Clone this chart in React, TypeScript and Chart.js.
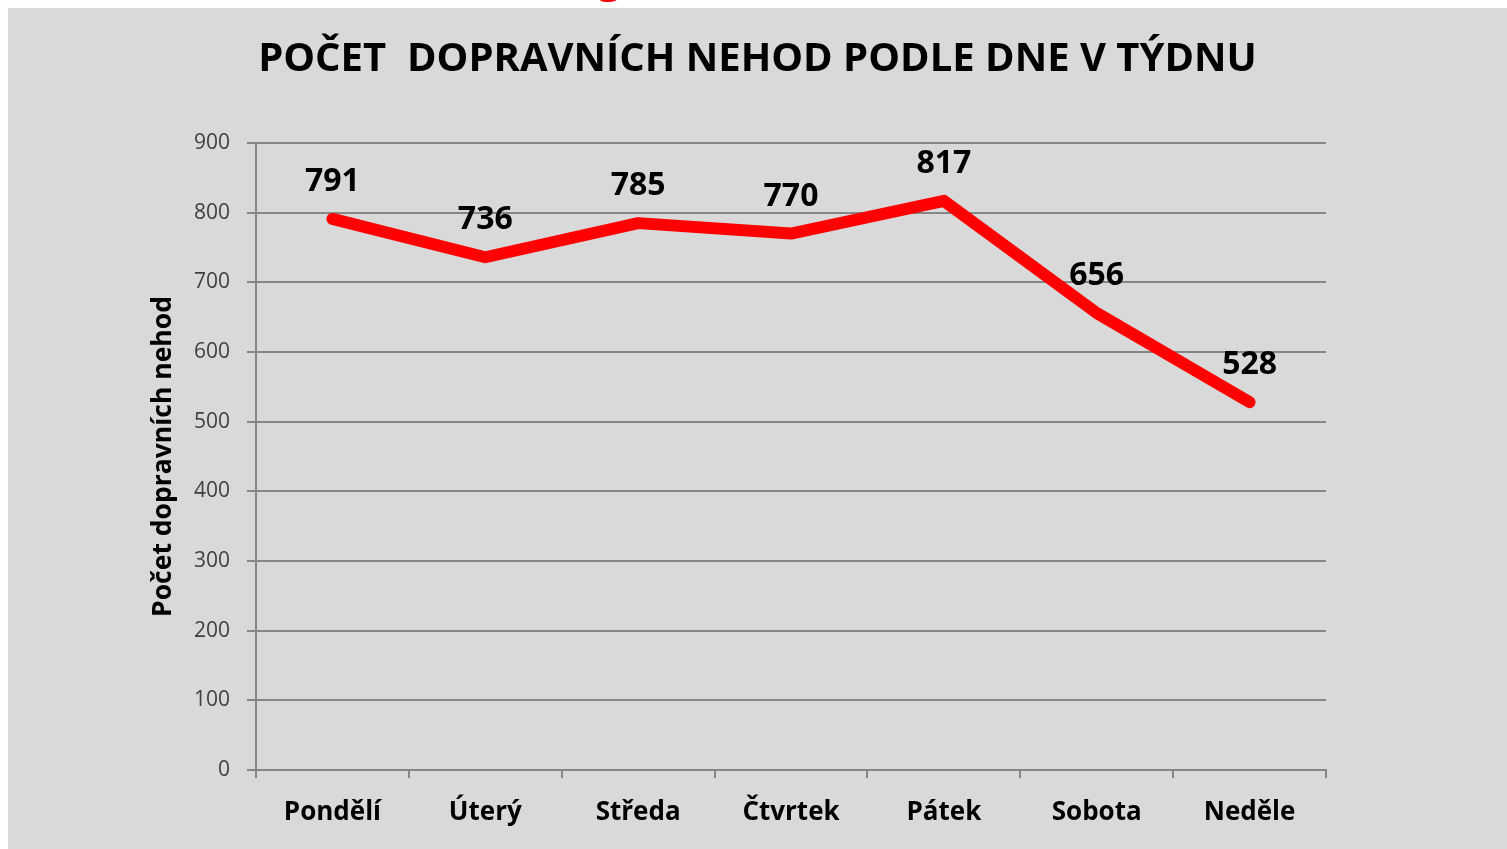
import React, { useEffect, useRef } from "react";
import { Chart, registerables } from "chart.js";

Chart.register(...registerables);

const days = ["Pondělí", "Úterý", "Středa", "Čtvrtek", "Pátek", "Sobota", "Neděle"];
const accidents = [791, 736, 785, 770, 817, 656, 528];
const yMin = 0;
const yMax = 900;
const yStep = 100;
const chartTitle = "POČET  DOPRAVNÍCH NEHOD PODLE DNE V TÝDNU";
const yAxisTitle = "Počet dopravních nehod";
const topFragment = "g";

const FONT = "'Open Sans', 'DejaVu Sans', sans-serif";

const valueLabels = {
  id: "valueLabels",
  afterDatasetsDraw(chart: any) {
    const { ctx } = chart;
    const meta = chart.getDatasetMeta(0);
    const data = chart.data.datasets[0].data as number[];
    ctx.save();
    ctx.font = `bold 32px ${FONT}`;
    ctx.fillStyle = "#000000";
    ctx.textAlign = "center";
    ctx.textBaseline = "middle";
    meta.data.forEach((pt: any, i: number) => {
      ctx.fillText(String(data[i]), pt.x, pt.y - 37);
    });
    ctx.restore();
  },
};

export default function App() {
  const ref = useRef<HTMLCanvasElement | null>(null);

  useEffect(() => {
    if (!ref.current) return;
    const chart = new Chart(ref.current, {
      type: "line",
      data: {
        labels: days,
        datasets: [
          {
            data: accidents,
            borderColor: "#ff0000",
            backgroundColor: "#ff0000",
            borderWidth: 12,
            borderCapStyle: "round",
            borderJoinStyle: "round",
            pointRadius: 0,
            pointHoverRadius: 0,
            tension: 0,
          },
        ],
      },
      options: {
        responsive: false,
        animation: false,
        layout: { padding: 0 },
        plugins: {
          legend: { display: false },
          tooltip: { enabled: false },
          title: {
            display: true,
            text: chartTitle,
            color: "#000000",
            font: { family: FONT, size: 40, weight: "bold", lineHeight: 1.2 },
            padding: { top: 28, bottom: 59 },
          },
        },
        scales: {
          x: {
            offset: true,
            grid: {
              offset: true,
              drawOnChartArea: false,
              drawTicks: true,
              tickLength: 8,
              color: "#868686",
              lineWidth: 2,
            },
            border: { display: true, color: "#868686", width: 2 },
            ticks: {
              color: "#000000",
              padding: 19,
              font: { family: FONT, size: 26, weight: "bold" },
              maxRotation: 0,
              autoSkip: false,
            },
            afterFit: (scale: any) => {
              scale.height = 79;
            },
          },
          y: {
            min: yMin,
            max: yMax,
            grid: {
              color: "#868686",
              lineWidth: 2,
              tickLength: 9,
            },
            border: { display: true, color: "#868686", width: 2 },
            ticks: {
              stepSize: yStep,
              color: "#404040",
              padding: 17,
              font: { family: FONT, size: 21 },
            },
            title: {
              display: true,
              text: yAxisTitle,
              color: "#000000",
              font: { family: FONT, size: 26.5, weight: "bold", lineHeight: 1.2 },
              padding: { top: 140, bottom: 0 },
            },
            afterFit: (scale: any) => {
              scale.width = 248;
            },
          },
          yRight: {
            position: "right",
            display: true,
            min: yMin,
            max: yMax,
            grid: { display: false, drawTicks: false },
            border: { display: false },
            ticks: { display: false },
            afterFit: (scale: any) => {
              scale.width = 181;
            },
          },
        },
      },
      plugins: [valueLabels],
    });
    return () => chart.destroy();
  }, []);

  return (
    <>
      <div
        style={{
          position: "absolute",
          left: 598,
          top: 0,
          width: 30,
          height: 8,
          overflow: "hidden",
        }}
      >
        <span
          style={{
            position: "absolute",
            left: 0,
            top: -42,
            fontFamily: FONT,
            fontWeight: "bold",
            fontSize: 40,
            lineHeight: "40px",
            color: "#ff0000",
          }}
        >
          {topFragment}
        </span>
      </div>
      <div
        style={{
          position: "absolute",
          left: 8,
          top: 8,
          width: 1499,
          height: 841,
          background: "#d9d9d9",
        }}
      >
        <canvas ref={ref} width={1499} height={841} style={{ display: "block" }} />
      </div>
    </>
  );
}
